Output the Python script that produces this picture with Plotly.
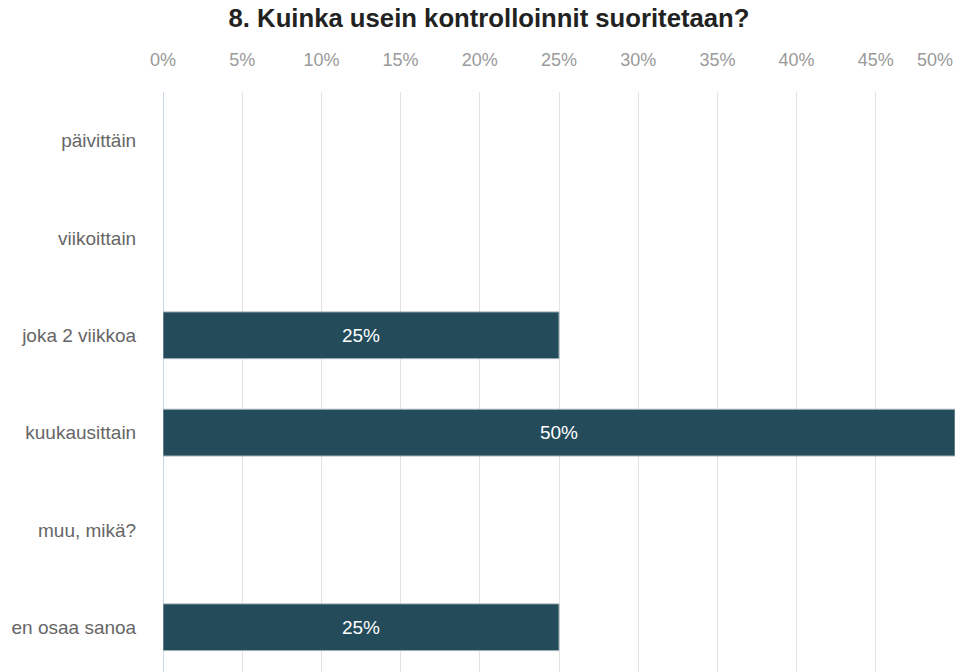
import plotly.graph_objects as go

categories = ["päivittäin", "viikoittain", "joka 2 viikkoa", "kuukausittain", "muu, mikä?", "en osaa sanoa"]
values = [0, 0, 25, 50, 0, 25]
tick_vals = [0, 5, 10, 15, 20, 25, 30, 35, 40, 45]
tick_text = [f"{v}%" for v in tick_vals]
last_tick = 50

labels = [f"{v}%" if v > 0 else "" for v in values]
line_widths = [1 if v > 0 else 0 for v in values]

FONT = "Liberation Sans, Arial"

fig = go.Figure()
fig.add_trace(go.Bar(
    x=values, y=categories, orientation="h",
    marker=dict(color="#234b59", line=dict(color="#9fb0b6", width=line_widths)),
    width=0.48,
    text=labels, textposition="inside", insidetextanchor="middle",
    textfont=dict(color="white", size=19, family=FONT),
    hoverinfo="skip",
))

fig.add_annotation(
    x=last_tick, y=1, xref="x", yref="paper", yanchor="bottom",
    xanchor="right", text=f"{last_tick}%", showarrow=False,
    font=dict(size=18, color="#9a9a9a", family=FONT),
    yshift=20,
)

fig.update_layout(
    width=958, height=672,
    margin=dict(l=163, r=3, t=92, b=0),
    paper_bgcolor="white", plot_bgcolor="white",
    showlegend=False,
    title=dict(text="<b>8. Kuinka usein kontrolloinnit suoritetaan?</b>",
               x=489/958, xanchor="center", y=0.973, yanchor="middle",
               font=dict(size=25.7, color="#222222", family=FONT)),
    xaxis=dict(
        side="top", range=[0, 50], tickvals=tick_vals, ticktext=tick_text,
        showgrid=True, gridcolor="#e3e3e3", gridwidth=1,
        zeroline=True, zerolinecolor="#ccd6eb", zerolinewidth=1,
        ticks="outside", ticklen=18, tickcolor="rgba(0,0,0,0)",
        tickfont=dict(size=18, color="#9a9a9a", family=FONT),
        fixedrange=True,
    ),
    yaxis=dict(
        type="category", categoryorder="array", categoryarray=categories,
        range=[5.46, -0.5], showgrid=False, zeroline=False,
        ticks="outside", ticklen=22, tickcolor="rgba(0,0,0,0)",
        tickfont=dict(size=19, color="#666666", family=FONT),
        fixedrange=True,
    ),
)

fig.write_html("out.html")
